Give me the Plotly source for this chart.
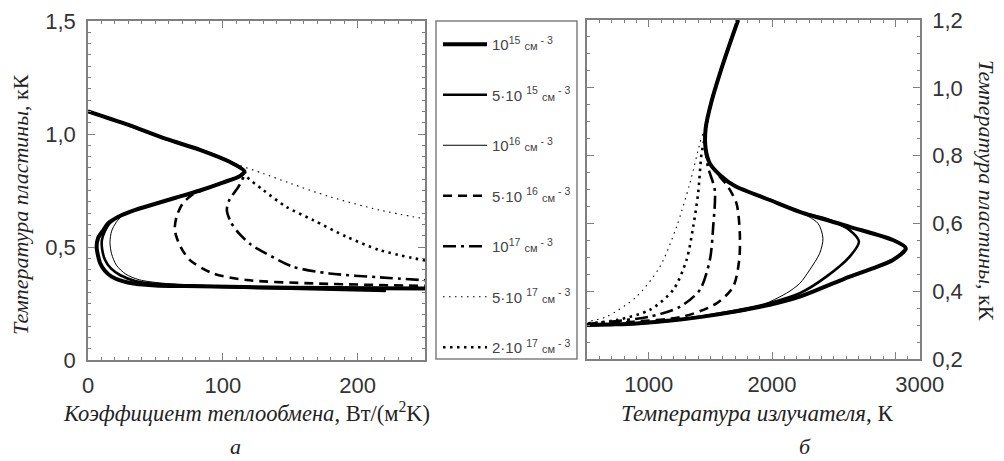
import plotly.graph_objects as go

# ---------------- Panel (a): plate temperature vs heat-transfer coefficient ----------------
# shared upper branch
a_up_h = [0, 30, 58, 83, 105, 116]
a_up_t = [1.10, 1.04, 0.978, 0.93, 0.877, 0.835]

a_h_1e15 = [113, 100, 83, 65, 47, 33, 22.5, 15, 11.4, 7.5, 6.4, 7.5, 9, 12.5, 17.5, 25, 35, 50, 72, 150, 250]
a_t_1e15 = [0.815, 0.785, 0.75, 0.718, 0.686, 0.66, 0.634, 0.605, 0.575, 0.54, 0.50, 0.46, 0.428, 0.395, 0.369, 0.35, 0.337, 0.33, 0.327, 0.32, 0.316]

a_h_5e15 = [113, 100, 83, 65, 47, 33, 22.5, 16, 12.5, 10.3, 10.5, 12.5, 17, 24, 35, 50, 80, 150, 221]
a_t_5e15 = [0.815, 0.785, 0.75, 0.718, 0.686, 0.66, 0.634, 0.605, 0.57, 0.53, 0.49, 0.445, 0.405, 0.375, 0.35, 0.337, 0.327, 0.315, 0.305]

a_h_1e16 = [113, 100, 83, 65, 47, 33, 26, 21, 17.5, 16.3, 17.5, 21, 28, 38, 55, 90, 150, 250]
a_t_1e16 = [0.815, 0.785, 0.75, 0.718, 0.686, 0.66, 0.64, 0.61, 0.57, 0.52, 0.47, 0.42, 0.38, 0.355, 0.34, 0.33, 0.322, 0.318]

a_h_5e16 = [113, 100, 85, 76, 70, 65.7, 64.4, 68, 75.6, 92.8, 117.5, 167, 250]
a_t_5e16 = [0.815, 0.785, 0.752, 0.725, 0.69, 0.634, 0.575, 0.509, 0.442, 0.383, 0.354, 0.339, 0.328]

a_h_1e17 = [112, 105, 103, 106, 112, 121, 132, 152, 179, 216, 250]
a_t_1e17 = [0.77, 0.71, 0.664, 0.61, 0.56, 0.51, 0.472, 0.413, 0.383, 0.366, 0.353]

a_h_5e17 = [112, 130, 150, 179, 216, 250]
a_t_5e17 = [0.862, 0.825, 0.782, 0.723, 0.664, 0.624]

a_h_2e17 = [118, 130, 147, 167, 191.6, 216, 250]
a_t_2e17 = [0.81, 0.752, 0.678, 0.619, 0.546, 0.487, 0.44]

# ---------------- Panel (b): plate temperature vs emitter temperature ----------------
b_top_T = [1725, 1604, 1510, 1462]
b_top_t = [1.2, 1.072, 0.96, 0.88]

b_T_1e15 = [1462, 1496, 1577, 1700, 1982, 2225, 2630, 2980, 3085, 2980, 2630, 2225, 1982, 1700, 1442, 1200, 902, 700, 500]
b_t_1e15 = [0.82, 0.777, 0.743, 0.71, 0.669, 0.634, 0.59, 0.551, 0.527, 0.492, 0.443, 0.384, 0.36, 0.34, 0.325, 0.314, 0.305, 0.302, 0.30]

b_T_5e15 = [1462, 1496, 1577, 1700, 1982, 2225, 2450, 2630, 2705, 2630, 2441, 2225, 1982, 1700, 1442, 1200, 902, 700, 500]
b_t_5e15 = [0.82, 0.777, 0.743, 0.71, 0.669, 0.634, 0.612, 0.58, 0.546, 0.502, 0.443, 0.394, 0.365, 0.342, 0.326, 0.314, 0.305, 0.302, 0.30]

b_T_1e16 = [1462, 1496, 1577, 1700, 1982, 2200, 2373, 2413, 2387, 2306, 2225, 2117, 1820, 1442, 1200, 902, 700, 500]
b_t_1e16 = [0.82, 0.777, 0.743, 0.71, 0.669, 0.638, 0.60, 0.556, 0.512, 0.463, 0.423, 0.394, 0.345, 0.325, 0.314, 0.305, 0.302, 0.30]

b_T_5e16 = [1462, 1496, 1560, 1640, 1712, 1739, 1734, 1685, 1550, 1280, 875, 500]
b_t_5e16 = [0.82, 0.777, 0.745, 0.71, 0.659, 0.571, 0.492, 0.413, 0.364, 0.325, 0.31, 0.30]

b_T_1e17 = [1462, 1480, 1536, 1523, 1496, 1415, 1253, 1010, 686, 500]
b_t_1e17 = [0.817, 0.767, 0.699, 0.590, 0.492, 0.404, 0.354, 0.325, 0.31, 0.303]

b_T_5e17 = [1440, 1415, 1334, 1226, 1091, 902, 659, 500]
b_t_5e17 = [0.865, 0.836, 0.718, 0.590, 0.472, 0.384, 0.325, 0.31]

b_T_2e17 = [1448, 1429, 1401, 1361, 1307, 1199, 1010, 740, 500]
b_t_2e17 = [0.84, 0.807, 0.689, 0.590, 0.492, 0.404, 0.345, 0.315, 0.305]

# legend labels
cm = "<span style='font-size:11px'>см</span>"
labels = [
    f"10<sup>15</sup> {cm}<sup> - 3</sup>",
    f"5·10 <sup>15</sup> {cm}<sup> - 3</sup>",
    f"10<sup>16</sup> {cm}<sup> - 3</sup>",
    f"5·10 <sup>16</sup> {cm}<sup> - 3</sup>",
    f"10<sup>17</sup> {cm}<sup> - 3</sup>",
    f"5·10 <sup>17</sup> {cm}<sup> - 3</sup>",
    f"2·10 <sup>17</sup> {cm}<sup> - 3</sup>",
]

styles = [
    dict(width=4.0, dash="solid"),
    dict(width=2.6, dash="solid"),
    dict(width=1.0, dash="solid"),
    dict(width=2.6, dash="9px,6px"),
    dict(width=2.6, dash="13px,5px,3px,5px"),
    dict(width=1.1, dash="1.5px,4.5px"),
    dict(width=2.6, dash="2.5px,4.5px"),
]

series_a = [
    (a_up_h + a_h_1e15, a_up_t + a_t_1e15),
    (a_up_h + a_h_5e15, a_up_t + a_t_5e15),
    (a_up_h + a_h_1e16, a_up_t + a_t_1e16),
    (a_up_h + a_h_5e16, a_up_t + a_t_5e16),
    (a_up_h + a_h_1e17, a_up_t + a_t_1e17),
    (a_up_h[:-1] + a_h_5e17, a_up_t[:-1] + a_t_5e17),
    (a_up_h + a_h_2e17, a_up_t + a_t_2e17),
]
series_b = [(b_top_T + T, b_top_t + t) for T, t in [
    (b_T_1e15, b_t_1e15), (b_T_5e15, b_t_5e15), (b_T_1e16, b_t_1e16),
    (b_T_5e16, b_t_5e16), (b_T_1e17, b_t_1e17), (b_T_5e17, b_t_5e17),
    (b_T_2e17, b_t_2e17)]]

fig = go.Figure()
# thinner curves drawn first so that the heavy curve stays on top
for i in reversed(range(len(labels))):
    st = styles[i]
    ln = dict(color="black", width=st["width"], dash=st["dash"], shape="spline", smoothing=0.8)
    fig.add_trace(go.Scatter(x=series_a[i][0], y=series_a[i][1], mode="lines", line=ln,
                             name=labels[i], legendgroup=f"g{i}", legendrank=i + 1,
                             showlegend=True, xaxis="x", yaxis="y"))
    fig.add_trace(go.Scatter(x=series_b[i][0], y=series_b[i][1], mode="lines", line=ln,
                             name=labels[i], legendgroup=f"g{i}", legendrank=i + 1,
                             showlegend=False, xaxis="x2", yaxis="y2"))

W, H = 1004, 461
axcol = "#808080"
tickfont = dict(family="Liberation Sans, Arial, sans-serif", size=22, color="#333333")


def px(x):
    return x / W


def py(y):
    return 1 - y / H


common = dict(showline=True, linecolor=axcol, linewidth=1.5, mirror="allticks",
              ticks="inside", ticklen=7, tickcolor=axcol, tickwidth=1.2,
              showgrid=False, zeroline=False, tickfont=tickfont, fixedrange=True,
              automargin=False)

fig.update_layout(
    width=W, height=H, autosize=False,
    margin=dict(l=0, r=0, t=0, b=0, pad=0, autoexpand=False),
    paper_bgcolor="white", plot_bgcolor="white",
    xaxis=dict(domain=[px(88), px(425)], range=[0, 250], tickvals=[0, 100, 200],
               ticktext=["0", "100", "200"], anchor="y", ticklabelstandoff=5,
               minor=dict(dtick=10, tick0=0, ticks="inside", ticklen=3, tickcolor=axcol), **common),
    yaxis=dict(domain=[py(360), py(21)], range=[0, 1.5], tickvals=[0, 0.5, 1.0, 1.5],
               ticktext=["0", "0,5", "1,0", "1,5"], anchor="x", ticklabelstandoff=6,
               minor=dict(dtick=0.05, tick0=0, ticks="inside", ticklen=3, tickcolor=axcol), **common),
    xaxis2=dict(domain=[px(587), px(920)], range=[500, 3200], tickvals=[1000, 2000, 3000],
                ticktext=["1000", "2000", "\u2007\u2007\u2007\u20073000"], anchor="y2", ticklabelstandoff=5,
                minor=dict(dtick=100, tick0=0, ticks="inside", ticklen=3, tickcolor=axcol), **common),
    yaxis2=dict(domain=[py(359), py(20)], range=[0.2, 1.2],
                tickvals=[0.2, 0.4, 0.6, 0.8, 1.0, 1.2],
                ticktext=["0,2", "0,4", "0,6", "0,8", "1,0", "1,2"], side="right",
                anchor="x2", ticklabelstandoff=6,
                minor=dict(dtick=0.05, tick0=0, ticks="inside", ticklen=3, tickcolor=axcol), **common),
    legend=dict(x=px(438), y=py(28), xanchor="left", yanchor="top",
                bgcolor="rgba(0,0,0,0)", borderwidth=0,
                font=dict(family="Liberation Sans, Arial, sans-serif", size=15, color="#444444"),
                traceorder="grouped", tracegroupgap=28, itemwidth=44),
    showlegend=True,
)

# frame around the legend
fig.add_shape(type="rect", xref="paper", yref="paper",
              x0=px(436), x1=px(577), y0=py(359), y1=py(21),
              line=dict(color=axcol, width=1.5), fillcolor="rgba(0,0,0,0)")

serif = "Liberation Serif, Times New Roman, serif"
ann = [
    dict(text="<i>Коэффициент теплообмена</i>, Вт/(м<sup>2</sup>K)", x=px(246), y=py(412), ya="middle", size=22.5, angle=0),
    dict(text="<i>Температура излучателя</i>, К", x=px(757), y=py(413), ya="middle", size=23, angle=0),
    dict(text="<i>Температура пластины</i>, кК", x=px(20), y=py(205), ya="middle", size=22, angle=-90),
    dict(text="<i>Температура пластины</i>, кК", x=px(987), y=py(190), ya="middle", size=22, angle=90),
    dict(text="<i>а</i>", x=px(235), y=0, ya="bottom", size=22, angle=0),
    dict(text="<i>б</i>", x=px(805), y=0, ya="bottom", size=22, angle=0),
]
for a in ann:
    fig.add_annotation(text=a["text"], x=a["x"], y=a["y"], xref="paper", yref="paper",
                       xanchor="center", yanchor=a["ya"], textangle=a["angle"], showarrow=False,
                       font=dict(family=serif, size=a["size"], color="#222222"))

fig.write_html("out.html")
